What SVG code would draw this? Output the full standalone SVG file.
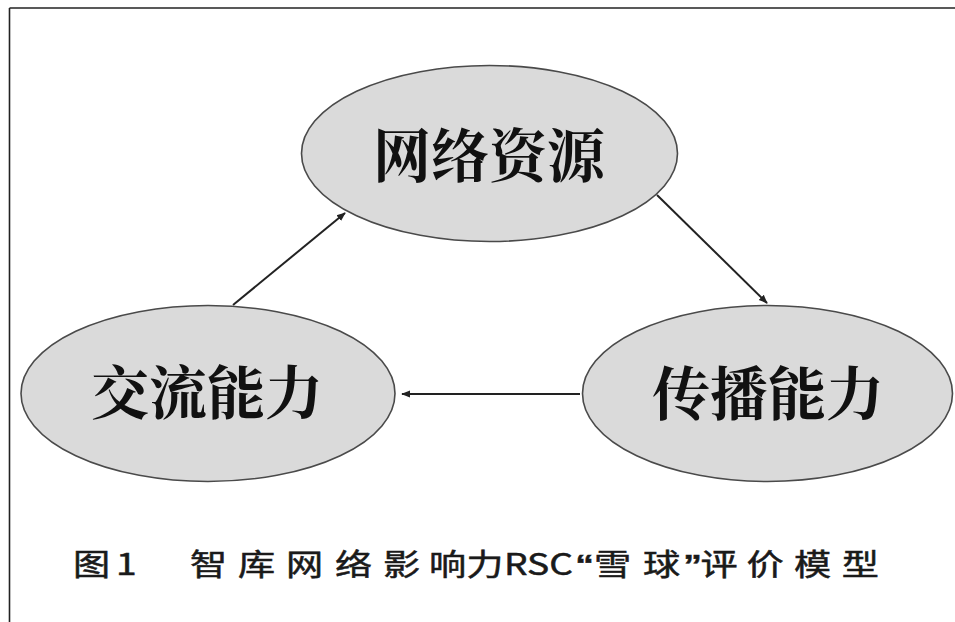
<svg xmlns="http://www.w3.org/2000/svg" width="955" height="622" viewBox="0 0 955 622">
<style>
.node ellipse{fill:#dadada;stroke:#4a4a4a;stroke-width:1.6}
.node text{font-family:"Noto Serif CJK SC","Noto Sans CJK SC",serif;font-weight:700;font-size:58px;fill:#111;text-anchor:middle}
.conn line{stroke:#222;stroke-width:2}
.cap{font-family:"Noto Sans CJK SC",sans-serif;font-size:30px;font-weight:400;fill:#1a1a1a;stroke:#1a1a1a;stroke-width:0.5}
.q{font-family:"Liberation Sans",sans-serif;font-weight:700}
</style>
<defs>
<marker id="ah" viewBox="0 0 10 10" refX="9" refY="5" markerWidth="9" markerHeight="9" markerUnits="userSpaceOnUse" orient="auto">
<path d="M0,1 L10,5 L0,9 Z" fill="#222"/>
</marker>
</defs>
<rect width="955" height="622" fill="#fff"/>
<g id="frame" fill="none" stroke="#222" stroke-width="1.6">
<line x1="9.5" y1="8" x2="955" y2="8"/>
<line x1="9.5" y1="8" x2="9.5" y2="622"/>
</g>
<g class="conn" id="connectors">
<line x1="233" y1="305" x2="345" y2="213" marker-end="url(#ah)"/>
<line x1="657" y1="195" x2="767" y2="303" marker-end="url(#ah)"/>
<line x1="580" y1="394" x2="402" y2="394" marker-end="url(#ah)"/>
</g>
<g class="node" id="n-resource">
<ellipse cx="489.5" cy="153.5" rx="188" ry="88"/>
<text x="489" y="177">网络资源</text>
</g>
<g class="node" id="n-exchange">
<ellipse cx="208" cy="393.5" rx="187" ry="88"/>
<text x="207" y="414">交流能力</text>
</g>
<g class="node" id="n-spread">
<ellipse cx="767.5" cy="393.5" rx="185" ry="88"/>
<text x="768" y="415">传播能力</text>
</g>
<g id="caption" transform="scale(1.24,1)">
<text class="cap" y="575"><tspan x="58.9">图</tspan><tspan x="93.5">1</tspan><tspan x="153.2">智</tspan><tspan x="191.9">库</tspan><tspan x="230.6">网</tspan><tspan x="270.2">络</tspan><tspan x="308.9">影</tspan><tspan x="346.0">响</tspan><tspan x="376.0">力</tspan><tspan x="406.5">RSC</tspan><tspan class="q" x="464.0">“</tspan><tspan x="479.0">雪</tspan><tspan x="518.5">球</tspan><tspan class="q" x="551.0">”</tspan><tspan x="565.0">评</tspan><tspan x="602.0">价</tspan><tspan x="640.3">模</tspan><tspan x="678.8">型</tspan></text>
</g>
</svg>
